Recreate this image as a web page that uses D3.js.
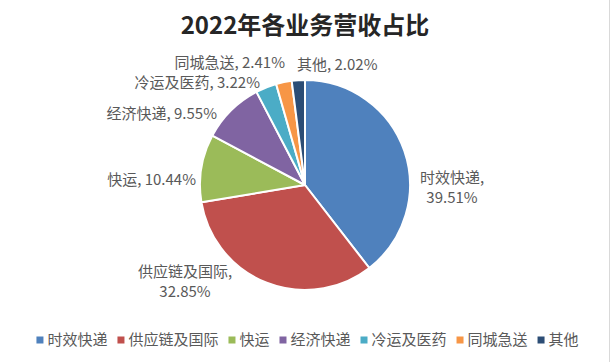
<!DOCTYPE html>
<html>
<head>
<meta charset="utf-8">
<script src="https://cdn.jsdelivr.net/npm/d3@7"></script>
<style>
  html, body { margin: 0; padding: 0; background: #fff; }
  svg { display: block; font-family: "Noto Sans CJK SC", "Noto Sans", sans-serif; }
</style>
</head>
<body>
<script>
const categories = ['时效快递', '供应链及国际', '快运', '经济快递', '冷运及医药', '同城急送', '其他'];
const shares = [39.51, 32.85, 10.44, 9.55, 3.22, 2.41, 2.02];
const colors = ['#4F81BD', '#C0504D', '#9BBB59', '#8064A2', '#4BACC6', '#F79646', '#2C4D75'];

// label placement relative to pie centre: [dx, dy, anchor, twoLines]
const labelLayout = [
  [147, 3, 'middle', true],
  [-120, 97, 'middle', true],
  [-109, -5, 'end', false],
  [-88, -71, 'end', false],
  [-45, -102, 'end', false],
  [-20, -122, 'end', false],
  [-8, -120, 'start', false]
];

const width = 611;
const height = 362;
const cx = 305;
const cy = 185;
const radius = 105;

const svg = d3.select('body')
  .append('svg')
  .attr('width', width)
  .attr('height', height);

svg.append('rect')
  .attr('width', width)
  .attr('height', height)
  .attr('fill', '#fff');

svg.append('line')
  .attr('x1', width - 1.5).attr('x2', width - 1.5)
  .attr('y1', 0).attr('y2', height)
  .attr('stroke', '#d9d9d9')
  .attr('stroke-width', 1);

svg.append('text')
  .attr('x', cx)
  .attr('y', 34)
  .attr('text-anchor', 'middle')
  .attr('font-size', 24)
  .attr('font-weight', 'bold')
  .attr('fill', '#262626')
  .text('2022年各业务营收占比');

const data = categories.map((name, i) => ({ name, value: shares[i], color: colors[i] }));

const pie = d3.pie().sort(null).value(d => d.value);
const arc = d3.arc().innerRadius(0).outerRadius(radius);

const g = svg.append('g').attr('transform', `translate(${ cx },${ cy })`);

g.selectAll('path')
  .data(pie(data))
  .enter()
  .append('path')
  .attr('d', arc)
  .attr('fill', d => d.data.color)
  .attr('stroke', '#fff')
  .attr('stroke-width', 2)
  .attr('stroke-linejoin', 'round');

const labels = g.selectAll('.label')
  .data(pie(data))
  .enter()
  .append('text')
  .attr('class', 'label')
  .attr('font-size', 15)
  .attr('fill', '#595959')
  .attr('text-anchor', (d, i) => labelLayout[i][2]);

labels.each(function(d, i) {
  const [dx, dy, , twoLines] = labelLayout[i];
  const t = d3.select(this);
  const pct = d.data.value.toFixed(2) + '%';
  if (twoLines) {
    t.append('tspan').attr('x', dx).attr('y', dy - 10).attr('dy', '0.35em').text(d.data.name + ',');
    t.append('tspan').attr('x', dx).attr('y', dy + 10).attr('dy', '0.35em').text(pct);
  } else {
    t.attr('x', dx).attr('y', dy).attr('dy', '0.35em').text(`${ d.data.name }, ${ pct }`);
  }
});

// legend, centred under the chart
const legend = svg.append('g').attr('class', 'legend');
const items = legend.selectAll('g')
  .data(data)
  .enter()
  .append('g');

items.append('rect')
  .attr('width', 7)
  .attr('height', 7)
  .attr('y', -3.5)
  .attr('fill', d => d.color);

items.append('text')
  .attr('x', 11)
  .attr('dy', '0.35em')
  .attr('font-size', 15)
  .attr('fill', '#595959')
  .text(d => d.name);

let offset = 0;
items.each(function() {
  const w = d3.select(this).select('text').node().getComputedTextLength();
  d3.select(this).attr('transform', `translate(${ offset },0)`);
  offset += 11 + w + 10;
});
const total = offset - 10;
legend.attr('transform', `translate(${ (width - total) / 2 + 2 },340)`);
</script>
</body>
</html>
